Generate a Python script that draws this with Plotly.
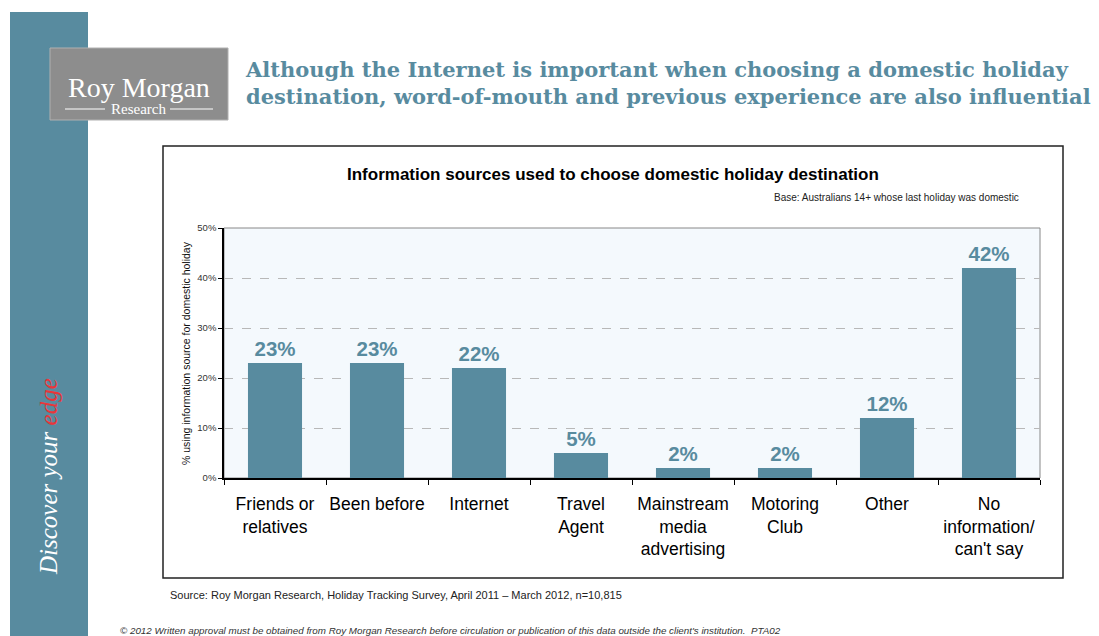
import plotly.graph_objects as go

categories = ["Friends or<br>relatives", "Been before", "Internet", "Travel<br>Agent",
              "Mainstream<br>media<br>advertising", "Motoring<br>Club", "Other",
              "No<br>information/<br>can't say"]
values = [23, 23, 22, 5, 2, 2, 12, 42]
y_ticks = [0, 10, 20, 30, 40, 50]
y_tick_labels = ["0%", "10%", "20%", "30%", "40%", "50%"]

TEAL = "#588b9f"
OFF = 8  # page body margin
W, H = 1099 - OFF, 636 - OFF
L, R, T, B = 224, 1040, 228, 478

def px(x):
    return (x - L) / (R - L)

def py(y):
    return (B - y) / (B - T)

fig = go.Figure()
fig.add_trace(go.Bar(
    x=categories, y=values, marker_color=TEAL, marker_line_width=0,
    text=[f"{v}%" for v in values], textposition="outside", cliponaxis=False,
    textfont=dict(family="Liberation Sans", size=20.5, color=TEAL, weight="bold"),
    hoverinfo="skip",
))

P = dict(xref="paper", yref="paper")

shapes = [
    dict(type="rect", **P, x0=px(10), x1=px(88), y0=py(640), y1=py(12),
         fillcolor=TEAL, line_width=0, layer="below"),
    dict(type="rect", **P, x0=px(50), x1=px(228), y0=py(120), y1=py(48),
         fillcolor="#8d8d8d", line=dict(color="#b0b0b0", width=1), layer="below"),
    dict(type="line", **P, x0=px(65), x1=px(105), y0=py(109), y1=py(109),
         line=dict(color="white", width=1)),
    dict(type="line", **P, x0=px(170), x1=px(213), y0=py(109), y1=py(109),
         line=dict(color="white", width=1)),
    dict(type="rect", **P, x0=px(163), x1=px(1063), y0=py(578), y1=py(146),
         line=dict(color="#222222", width=1.5), fillcolor="rgba(0,0,0,0)", layer="below"),
    dict(type="rect", **P, x0=0, x1=1, y0=0, y1=1,
         line=dict(color="#888888", width=1), fillcolor="rgba(0,0,0,0)", layer="below"),
]

annotations = [
    dict(text="<b>Although the Internet is important when choosing a domestic holiday<br>"
              "destination, word-of-mouth and previous experience are also influential</b>",
         **P, x=px(243), y=py(83), xanchor="left", yanchor="middle", showarrow=False, align="left",
         font=dict(family="DejaVu Serif", size=21, color=TEAL)),
    dict(text="Roy Morgan", **P, x=px(139), y=py(87), xanchor="center", yanchor="middle", showarrow=False,
         font=dict(family="Liberation Serif", size=28, color="white")),
    dict(text="Research", **P, x=px(138), y=py(109), xanchor="center", yanchor="middle", showarrow=False,
         font=dict(family="Liberation Serif", size=15, color="white")),
    dict(text="<i>Discover your <span style='color:#e8363a'>edge</span></i>", **P, x=px(48), y=py(477),
         xanchor="center", yanchor="middle", showarrow=False, textangle=-90,
         font=dict(family="Liberation Serif", size=25, color="white")),
    dict(text="<b>Information sources used to choose domestic holiday destination</b>",
         **P, x=px(613), y=py(174), xanchor="center", yanchor="middle", showarrow=False,
         font=dict(family="Liberation Sans", size=17, color="black")),
    dict(text="Base: Australians 14+ whose last holiday was domestic",
         **P, x=px(1021), y=py(198), xanchor="right", yanchor="middle", showarrow=False,
         font=dict(family="Liberation Sans", size=10, color="#222222")),
    dict(text="% using information source for domestic holiday", **P, x=px(186), y=py(353),
         xanchor="center", yanchor="middle", showarrow=False, textangle=-90,
         font=dict(family="Liberation Sans", size=10.5, color="#111111")),
    dict(text="Source: Roy Morgan Research, Holiday Tracking Survey, April 2011 \u2013 March 2012, n=10,815",
         **P, x=px(168), y=py(595), xanchor="left", yanchor="middle", showarrow=False,
         font=dict(family="Liberation Sans", size=11, color="#222222")),
    dict(text="<i>\u00a9 2012 Written approval must be obtained from Roy Morgan Research before circulation or publication of this data outside the client's institution.  PTA02</i>",
         **P, x=px(118), y=py(630), xanchor="left", yanchor="middle", showarrow=False,
         font=dict(family="Liberation Sans", size=9.8, color="#333333")),
]

fig.update_layout(
    width=W, height=H,
    margin=dict(l=L - OFF, r=(W + OFF) - R, t=T - OFF, b=(H + OFF) - B, pad=0),
    paper_bgcolor="white", plot_bgcolor="#f4f9fd",
    showlegend=False, bargap=0.47,
    shapes=shapes, annotations=annotations,
    xaxis=dict(showline=True, linecolor="black", linewidth=1.5, ticks="outside", ticklen=5,
               tickcolor="black", tickson="boundaries", showgrid=False, ticklabelstandoff=9,
               tickfont=dict(family="Liberation Sans", size=17.5, color="black"), tickangle=0),
    yaxis=dict(range=[0, 50], tickvals=y_ticks, ticktext=y_tick_labels, showline=True,
               linecolor="black", linewidth=1.5, ticks="outside", ticklen=4, tickcolor="black",
               showgrid=True, gridcolor="#b8b8b8", griddash="dash", gridwidth=1, zeroline=False,
               tickfont=dict(family="Liberation Sans", size=9.5, color="#333333")),
)

fig.write_html("out.html")
